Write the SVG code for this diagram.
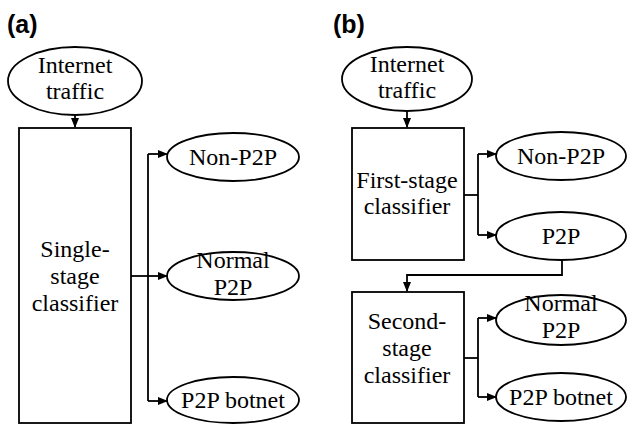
<svg xmlns="http://www.w3.org/2000/svg" width="627" height="427" viewBox="0 0 627 427">
<style>
.n{fill:#fff;stroke:#000;stroke-width:1.8}
.t{font-family:'Liberation Serif','Tinos','Times New Roman','DejaVu Serif',serif;font-size:24px;fill:#000;text-anchor:middle}
.lab{font-family:'Liberation Sans',Arial,sans-serif;font-size:25px;font-weight:bold;fill:#000}
.c{fill:none;stroke:#000;stroke-width:1.8}
</style>
<defs>
<marker id="ah" markerWidth="10" markerHeight="8" refX="9" refY="4" orient="auto" markerUnits="userSpaceOnUse">
<path d="M0,0 L10,4 L0,8 Z" fill="#000"/>
</marker>
</defs>
<rect width="627" height="427" fill="#fff"/>
<text class="lab" x="7" y="33">(a)</text>
<text class="lab" x="333" y="33">(b)</text>

<g id="a_internet"><ellipse class="n" cx="75" cy="81" rx="67" ry="34"/><text class="t" x="75" y="73">Internet</text><text class="t" x="75" y="99">traffic</text></g>
<g id="a_classifier"><rect class="n" x="19" y="128" width="112" height="295"/><text class="t" x="75" y="257">Single-</text><text class="t" x="75" y="284">stage</text><text class="t" x="75" y="311">classifier</text></g>
<g id="a_nonp2p"><ellipse class="n" cx="233" cy="157" rx="66" ry="24"/><text class="t" x="233" y="165">Non-P2P</text></g>
<g id="a_normal"><ellipse class="n" cx="233" cy="276" rx="66" ry="24"/><text class="t" x="233" y="268">Normal</text><text class="t" x="233" y="295">P2P</text></g>
<g id="a_botnet"><ellipse class="n" cx="233" cy="400" rx="66" ry="23"/><text class="t" x="233" y="408">P2P botnet</text></g>

<g id="b_internet"><ellipse class="n" cx="407" cy="79" rx="65" ry="32"/><text class="t" x="407" y="72">Internet</text><text class="t" x="407" y="98">traffic</text></g>
<g id="b_first"><rect class="n" x="352" y="128" width="112" height="132"/><text class="t" x="407" y="188">First-stage</text><text class="t" x="407" y="214">classifier</text></g>
<g id="b_nonp2p"><ellipse class="n" cx="561" cy="156" rx="65" ry="24"/><text class="t" x="561" y="164">Non-P2P</text></g>
<g id="b_p2p"><ellipse class="n" cx="561" cy="236" rx="65" ry="24"/><text class="t" x="561" y="244">P2P</text></g>
<g id="b_second"><rect class="n" x="352" y="292" width="112" height="131"/><text class="t" x="407" y="329">Second-</text><text class="t" x="407" y="356">stage</text><text class="t" x="407" y="383">classifier</text></g>
<g id="b_normal"><ellipse class="n" cx="561" cy="320" rx="65" ry="25"/><text class="t" x="561" y="311">Normal</text><text class="t" x="561" y="338">P2P</text></g>
<g id="b_botnet"><ellipse class="n" cx="561" cy="397" rx="65" ry="24"/><text class="t" x="561" y="405">P2P botnet</text></g>

<g id="connectors">
<path class="c" d="M75,115 V127" marker-end="url(#ah)"/>
<path class="c" d="M131,276 H148"/>
<path class="c" d="M148,154 V401"/>
<path class="c" d="M148,154 H167" marker-end="url(#ah)"/>
<path class="c" d="M148,276 H167" marker-end="url(#ah)"/>
<path class="c" d="M148,401 H167" marker-end="url(#ah)"/>

<path class="c" d="M407,111 V127" marker-end="url(#ah)"/>
<path class="c" d="M464,195 H478"/>
<path class="c" d="M478,154 V235"/>
<path class="c" d="M478,154 H496" marker-end="url(#ah)"/>
<path class="c" d="M478,235 H496" marker-end="url(#ah)"/>
<path class="c" d="M562,260 V275 H407 V291" marker-end="url(#ah)"/>
<path class="c" d="M464,358 H478"/>
<path class="c" d="M478,318 V397"/>
<path class="c" d="M478,318 H496" marker-end="url(#ah)"/>
<path class="c" d="M478,397 H496" marker-end="url(#ah)"/>
</g>
</svg>
